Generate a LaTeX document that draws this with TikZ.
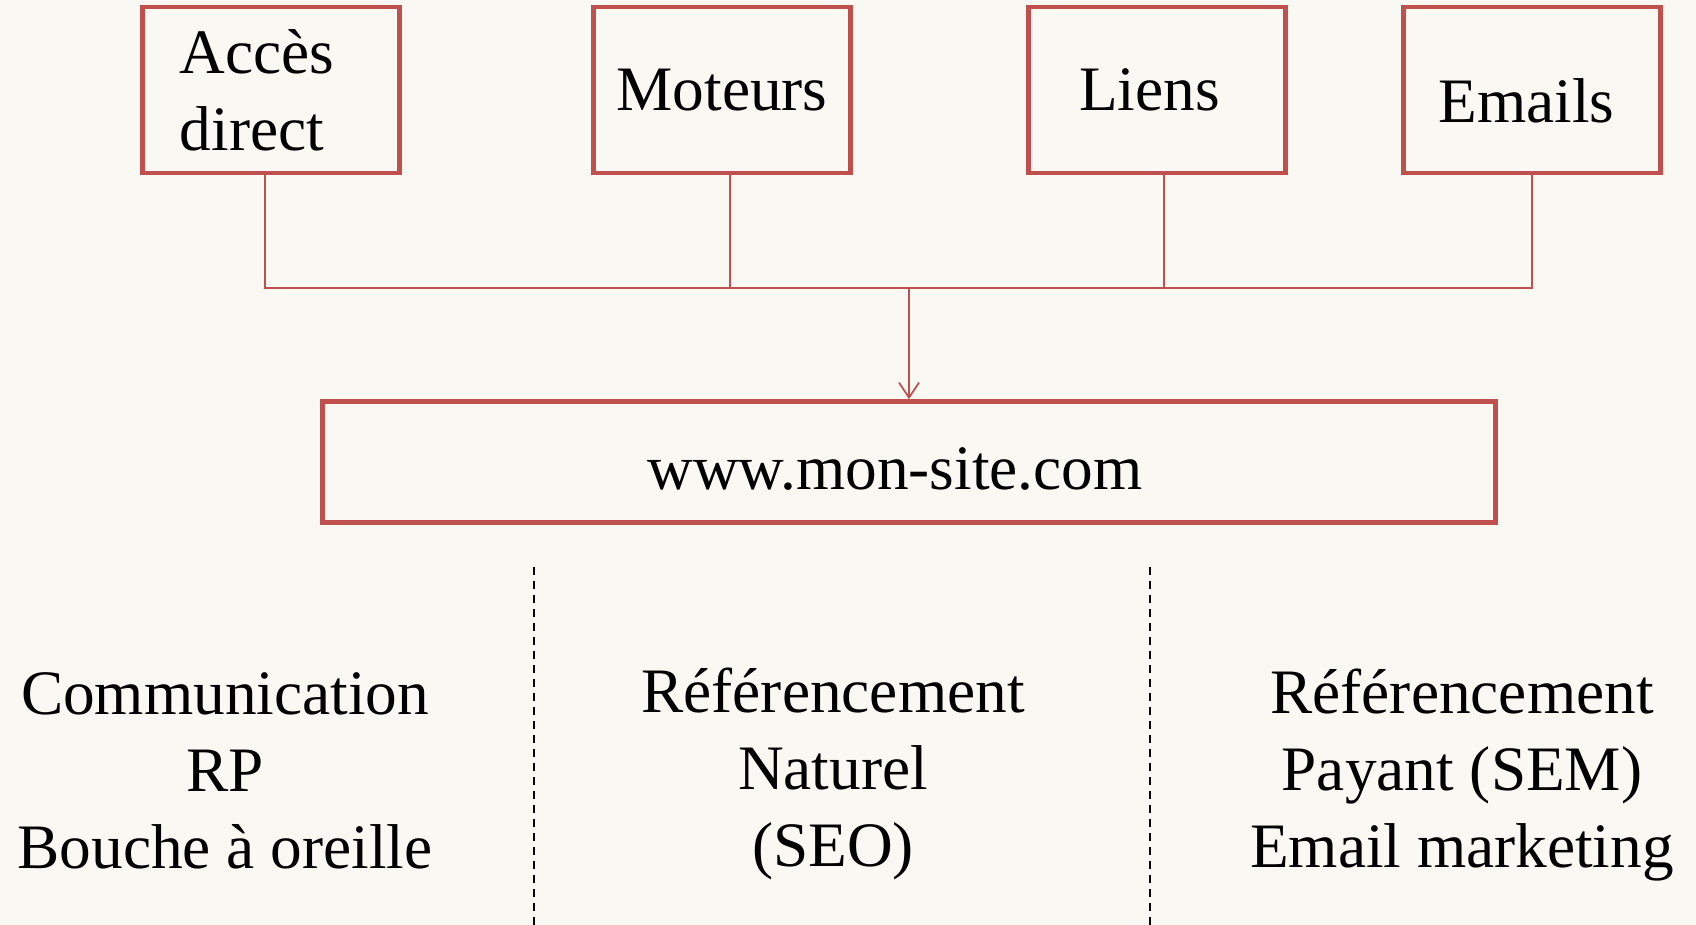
\documentclass[tikz,border=0pt]{standalone}
\usepackage{fontspec}
\setmainfont{Liberation Serif}
\usetikzlibrary{arrows.meta}
\definecolor{boxred}{RGB}{192,80,77}
\definecolor{paper}{RGB}{249,248,242}

\begin{document}
\begin{tikzpicture}[x=0.01cm, y=-0.01cm,
		every node/.style={font=\fontsize{18}{21.9}\selectfont},
		source/.style={draw=boxred, line width=0.045cm, minimum width=2.57cm, minimum height=1.66cm, inner sep=0pt},
		link/.style={draw=boxred, line width=0.5pt},
		split/.style={draw=black, line width=0.02cm, dash pattern=on 0.08cm off 0.06cm}]
		\fill[paper] (0,0) rectangle (1696,925);
		\useasboundingbox (0,0) rectangle (1696,925);
		% sources de trafic
		\node[source, align=left, text width=1.82cm] (acces) at (271,90) {Accès\\direct};
		\node[source] (moteurs) at (722,90) {Moteurs};
		\node[source] (liens) at (1157,90) {Liens\kern0.15cm};
		\node[source, text height=0.65cm, text depth=0pt] (emails) at (1532,90) {Emails\kern0.11cm};
		\node[source, minimum width=11.72cm, minimum height=1.21cm, text height=0.54cm, text depth=0pt] (site) at (909,462) {www.mon-site.com\kern0.28cm};
		\coordinate (join) at (909,288);
		\draw[link] ([xshift=-0.06cm]acces.south) |- (join);
		\draw[link] ([xshift=0.08cm]moteurs.south) |- (join);
		\draw[link] ([xshift=0.07cm]liens.south) |- (join);
		\draw[link] (emails.south) |- (join);
		\draw[link, -{Straight Barb[length=0.15cm, width=0.2cm]}] (join) -- (site.north);
		% leviers
		\node[align=center] (com) at (225,771) {Communication\\RP\\Bouche à oreille};
		\node[align=center] (seo) at (833,774) {Référencement\\Naturel\\(SEO)};
		\node[align=center] (sem) at (1462,775) {Référencement\\Payant (SEM)\\Email marketing};
		\coordinate (sepA) at (534,567);
		\coordinate (sepAend) at (534,925);
		\coordinate (sepB) at (1150,567);
		\coordinate (sepBend) at (1150,925);
		\draw[split] (sepA) -- (sepAend);
		\draw[split] (sepB) -- (sepBend);
	\end{tikzpicture}
\end{document}
